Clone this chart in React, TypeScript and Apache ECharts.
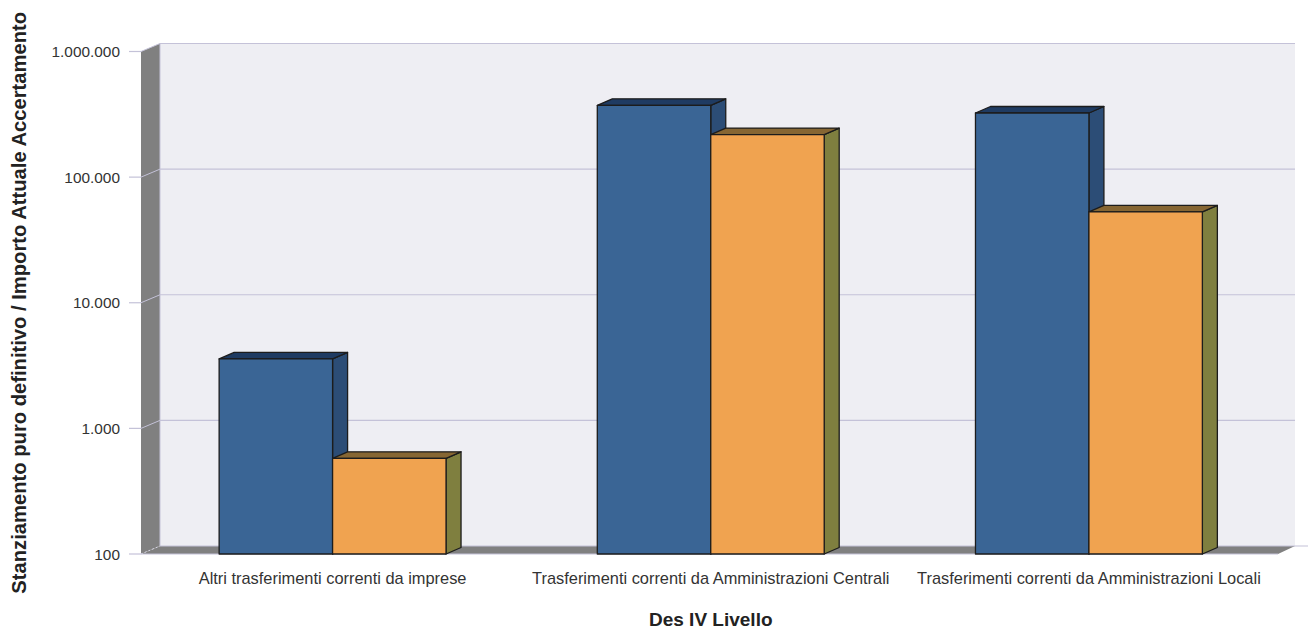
import React, { useEffect, useRef } from "react";
import * as echarts from "echarts";

const categories = [
  "Altri trasferimenti correnti da imprese",
  "Trasferimenti correnti da Amministrazioni Centrali",
  "Trasferimenti correnti da Amministrazioni Locali",
];
const stanziamento = [3570, 373000, 324000];
const accertamento = [578, 218000, 52800];
const yTicks = [100, 1000, 10000, 100000, 1000000];
const yAxisName = "Stanziamento puro definitivo / Importo Attuale Accertamento";
const xAxisName = "Des IV Livello";

const FONT = "Liberation Sans";
const GRID_LINE = "#c4c2d8";
const WALL = "#eeeef3";
const GRAY = "#808080";
const EDGE = "#1c1c1c";

const fmt = (v: number) => String(Math.round(v)).replace(/\B(?=(\d{3})+$)/g, ".");

function bar3d(values: number[], offsetDir: number, front: string, top: string, side: string, name: string) {
  return {
    type: "custom",
    name,
    z: 5,
    silent: true,
    data: values.map((v, i) => [i, v]),
    encode: { x: 0, y: 1 },
    renderItem: (_p: any, api: any) => {
      const p = api.coord([api.value(0), api.value(1)]);
      const base = api.coord([api.value(0), yTicks[0]]);
      const w = api.size([1, 0])[0] * 0.3;
      const x0 = offsetDir < 0 ? p[0] - w : p[0];
      const x1 = x0 + w;
      const dx = 15;
      const dy = 6.5;
      const line = { stroke: EDGE, lineWidth: 1.3, lineJoin: "round" };
      return {
        type: "group",
        children: [
          {
            type: "polygon",
            shape: { points: [[x1, p[1]], [x1 + dx, p[1] - dy], [x1 + dx, base[1] - dy], [x1, base[1]]] },
            style: { fill: side, ...line },
          },
          {
            type: "polygon",
            shape: { points: [[x0, p[1]], [x0 + dx, p[1] - dy], [x1 + dx, p[1] - dy], [x1, p[1]]] },
            style: { fill: top, ...line },
          },
          {
            type: "rect",
            shape: { x: x0, y: p[1], width: x1 - x0, height: base[1] - p[1] },
            style: { fill: front, ...line },
          },
        ],
      };
    },
  };
}

export default function App() {
  const ref = useRef<HTMLDivElement>(null);
  useEffect(() => {
    const chart = echarts.init(ref.current!, undefined, { renderer: "svg" });
    chart.setOption({
      animation: false,
      backgroundColor: "#ffffff",
      tooltip: { show: false },
      legend: { show: false },
      grid: { left: 143.5, right: 35, top: 51.5, bottom: 76, containLabel: false, outerBoundsMode: "none" },
      xAxis: {
        type: "category",
        data: categories,
        axisLine: { show: false },
        axisTick: { show: false },
        axisLabel: { margin: 16, fontFamily: FONT, fontSize: 16.4, color: "#333333", interval: 0, hideOverlap: false },
        name: xAxisName,
        nameLocation: "middle",
        nameGap: 56,
        nameTextStyle: { fontFamily: FONT, fontSize: 19, fontWeight: "bold", color: "#222222" },
      },
      yAxis: {
        type: "log",
        logBase: 10,
        min: 100,
        max: 1000000,
        offset: 2.5,
        splitLine: { show: false },
        minorTick: { show: false },
        axisLine: { show: false },
        axisTick: { show: false },
        axisLabel: { margin: 21, fontFamily: FONT, fontSize: 15.4, color: "#333333", formatter: fmt },
        name: yAxisName,
        nameLocation: "middle",
        nameGap: 112,
        nameTextStyle: { fontFamily: FONT, fontSize: 20.2, fontWeight: "bold", color: "#222222" },
      },
      series: [
        {
          type: "custom",
          name: "wall",
          z: 1,
          silent: true,
          data: [[0, yTicks[0]]],
          encode: { x: 0, y: 1 },
          renderItem: (params: any, api: any) => {
            const c = params.coordSys;
            const L = c.x - 2.5;
            const T = c.y;
            const B = c.y + c.height;
            const R = c.x + c.width;
            const dx = 19;
            const dy = 8;
            return {
              type: "group",
              children: [
                { type: "rect", shape: { x: L + dx, y: T - dy, width: R + 17 - (L + dx), height: B - T }, style: { fill: WALL } },
                { type: "polygon", shape: { points: [[L, T], [L + dx, T - dy], [L + dx, B - dy], [L, B]] }, style: { fill: GRAY } },
                { type: "polygon", shape: { points: [[L, B], [L + dx, B - dy], [R + 17, B - dy], [R, B]] }, style: { fill: GRAY } },
                { type: "line", shape: { x1: L + dx, y1: T - dy, x2: L + dx, y2: B - dy }, style: { stroke: GRID_LINE, lineWidth: 1 } },
              ],
            };
          },
        },
        {
          type: "custom",
          name: "gridlines",
          z: 2,
          silent: true,
          data: yTicks.map((v) => [0, v]),
          encode: { x: 0, y: 1 },
          renderItem: (params: any, api: any) => {
            const c = params.coordSys;
            const y = api.coord([0, api.value(1)])[1];
            const L = c.x - 2.5;
            const R = c.x + c.width + 17;
            const isBase = api.value(1) === yTicks[0];
            return {
              type: "group",
              children: [
                { type: "line", shape: { x1: L - 12, y1: y, x2: L, y2: y }, style: { stroke: GRID_LINE, lineWidth: 1.2 } },
                { type: "line", shape: { x1: L, y1: y, x2: L + 19, y2: y - 8 }, style: { stroke: isBase ? "#d8d6e6" : GRID_LINE, lineWidth: 1, lineDash: isBase ? [2, 2] : undefined } },
                { type: "line", shape: { x1: L + 19, y1: y - 8, x2: isBase ? R + 13 : R, y2: y - 8 }, style: { stroke: GRID_LINE, lineWidth: 1.2 } },
                ...(isBase ? [{ type: "line", shape: { x1: L, y1: y, x2: R - 17, y2: y }, style: { stroke: GRID_LINE, lineWidth: 1 } }] : []),
              ],
            };
          },
        },
        bar3d(stanziamento, -1, "#3a6595", "#1f3b62", "#2c4d76", "Stanziamento puro definitivo"),
        bar3d(accertamento, 1, "#f0a350", "#866633", "#7f7f3f", "Importo Attuale Accertamento"),
      ],
    });
    return () => chart.dispose();
  }, []);
  return <div ref={ref} style={{ position: "absolute", left: 0, top: 0, width: 1313, height: 630 }} />;
}
